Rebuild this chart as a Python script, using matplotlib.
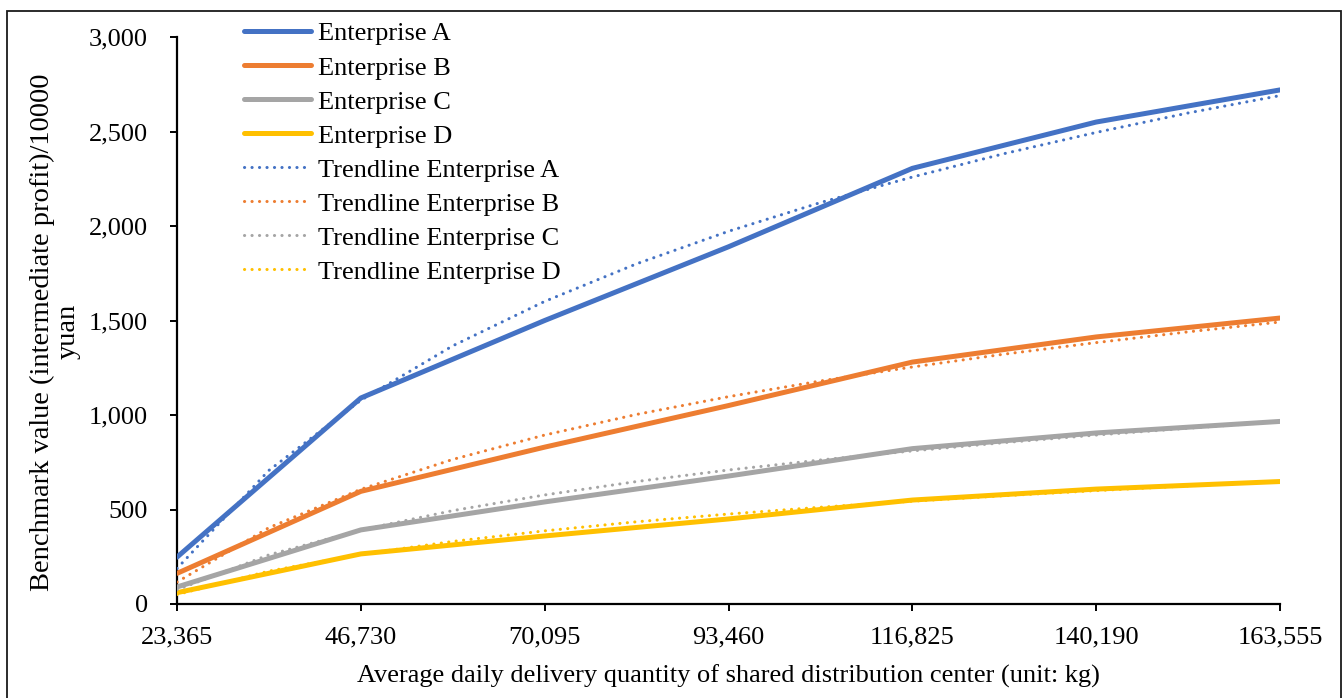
import numpy as np
import matplotlib
matplotlib.use("Agg")
import matplotlib.pyplot as plt
from matplotlib.patches import Rectangle
from matplotlib.ticker import FuncFormatter

plt.rcParams['font.family'] = ['Liberation Serif', 'DejaVu Serif']

# ------------------ DATA ------------------
x_labels = ["23,365", "46,730", "70,095", "93,460", "116,825", "140,190", "163,555"]

ent_a = [248, 1090, 1500, 1890, 2305, 2550, 2720]
ent_b = [162, 596, 830, 1050, 1280, 1413, 1513]
ent_c = [90, 392, 540, 677, 822, 905, 966]
ent_d = [60, 265, 360, 450, 550, 608, 648]

# trendlines read at every half category (1, 1.5, 2, ... 7)
trend_a = [188, 707, 1078, 1366, 1601, 1800, 1972, 2124, 2259, 2383, 2495, 2598, 2690]
trend_b = [116, 404, 607, 765, 894, 1003, 1097, 1180, 1254, 1322, 1383, 1440, 1492]
trend_c = [75, 260, 392, 494, 577, 648, 709, 762, 810, 854, 894, 930, 965]
trend_d = [50, 174, 263, 331, 387, 435, 476, 512, 544, 573, 600, 625, 648]

names = ["Enterprise A", "Enterprise B", "Enterprise C", "Enterprise D"]
colors = ["#4472C4", "#ED7D31", "#A5A5A5", "#FFC000"]

FS = 19

# ------------------ PLOT ------------------
fig = plt.figure(figsize=(13.44, 6.98), dpi=100)
ax = fig.add_axes([177 / 1344, 1 - 604 / 698, (1280 - 177) / 1344, (604 - 37) / 698])

# outer chart frame (open at the bottom edge, as in the source)
fig.patches.append(Rectangle((7 / 1344, -0.02), (1341 - 7) / 1344, (698 - 11) / 698 + 0.02,
                             transform=fig.transFigure, fill=False, edgecolor="#1a1a1a",
                             linewidth=1.3))

pos = np.arange(len(x_labels))
trend_pos = np.arange(len(trend_a)) * 0.5

for vals, name, c in zip([ent_a, ent_b, ent_c, ent_d], names, colors):
    ax.plot(pos, vals, color=c, lw=3.6, label=name, solid_capstyle='round',
            solid_joinstyle='round', zorder=3)

for vals, name, c in zip([trend_a, trend_b, trend_c, trend_d], names, colors):
    ax.plot(trend_pos, vals, color=c, lw=2.2, linestyle=(0, (0.05, 2.4)),
            dash_capstyle='round', label="Trendline " + name, zorder=4)

ax.set_xlim(0, 6)
ax.set_ylim(0, 3000)
ax.set_xticks(pos)
ax.set_xticklabels(x_labels)
ax.set_yticks(np.arange(0, 3001, 500))
ax.yaxis.set_major_formatter(FuncFormatter(lambda v, p: f"{int(v):,}"))

for s in ["top", "right"]:
    ax.spines[s].set_visible(False)
for s in ["left", "bottom"]:
    ax.spines[s].set_linewidth(1.6)
    ax.spines[s].set_color("black")

ax.tick_params(axis='both', direction='out', length=5, width=1.4, labelsize=FS)
ax.tick_params(axis='y', pad=16)
ax.tick_params(axis='x', pad=11)

ax.set_xlabel("Average daily delivery quantity of shared distribution center (unit: kg)",
              fontsize=FS, labelpad=12)
ax.set_ylabel("Benchmark value (intermediate profit)/10000\nyuan", fontsize=20.5,
              labelpad=6, linespacing=1.0)
ax.yaxis.label.set_y(0.48)

fig.legend(loc='upper left', bbox_to_anchor=(244 / 1344, 1 - 22 / 698), frameon=False,
           fontsize=FS, handlelength=2.55, handletextpad=0.25, labelspacing=0.40,
           borderpad=0, borderaxespad=0)

plt.savefig("out.png", dpi=100)
plt.close()
